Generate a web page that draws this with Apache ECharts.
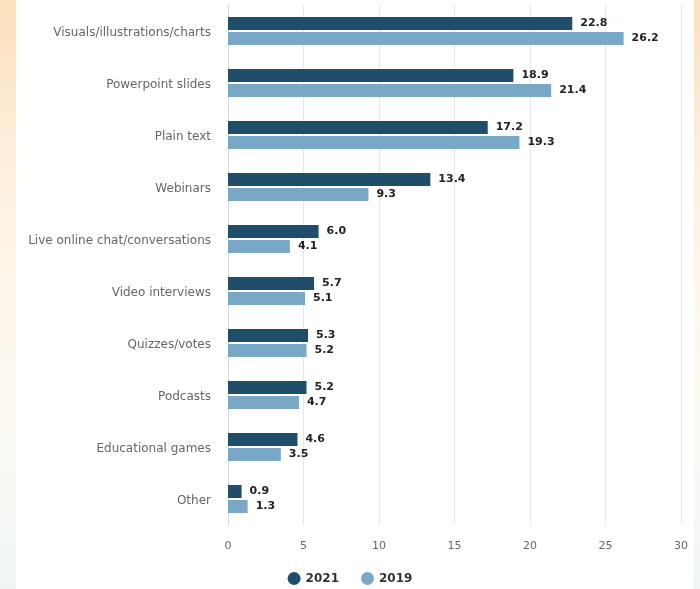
<!DOCTYPE html>
<html>
<head>
<meta charset="utf-8">
<script src="https://cdn.jsdelivr.net/npm/echarts@6/dist/echarts.min.js"></script>
<style>
  html, body { margin: 0; padding: 0; }
  body {
    width: 700px; height: 589px; overflow: hidden; position: relative;
    background: linear-gradient(to bottom, #fde0bc 0%, #fdeedb 25%, #fef7ec 50%, #fcfaf4 75%, #eef6f5 100%);
  }
  #panel { position: absolute; left: 16px; top: 0; width: 678px; height: 589px; background: #ffffff; }
  #chart { position: absolute; left: 0; top: 0; width: 700px; height: 589px; }
</style>
</head>
<body>
<div id="panel"></div>
<div id="chart"></div>
<script>
// Content formats used, share of respondents (%)
const categories = [
  'Visuals/illustrations/charts',
  'Powerpoint slides',
  'Plain text',
  'Webinars',
  'Live online chat/conversations',
  'Video interviews',
  'Quizzes/votes',
  'Podcasts',
  'Educational games',
  'Other'
];
const values2021 = [22.8, 18.9, 17.2, 13.4, 6.0, 5.7, 5.3, 5.2, 4.6, 0.9];
const values2019 = [26.2, 21.4, 19.3, 9.3, 4.1, 5.1, 5.2, 4.7, 3.5, 1.3];
const seriesNames = ['2021', '2019'];
const xTicks = [0, 5, 10, 15, 20, 25, 30];

const FONT = 'DejaVu Sans';
const chart = echarts.init(document.getElementById('chart'), null, { renderer: 'canvas' });

const valueLabel = {
  show: true,
  position: 'right',
  distance: 8,
  color: '#222222',
  fontWeight: 'bold',
  fontSize: 11,
  fontFamily: FONT,
  formatter: p => p.value.toFixed(1)
};

chart.setOption({
  backgroundColor: 'transparent',
  animation: false,
  textStyle: { fontFamily: FONT },
  grid: { left: 228, right: 19, top: 5, bottom: 64, containLabel: false },
  legend: {
    data: seriesNames,
    bottom: -1,
    left: 'center',
    icon: 'circle',
    itemWidth: 13,
    itemHeight: 13,
    itemGap: 22,
    textStyle: { fontFamily: FONT, fontSize: 12, fontWeight: 'bold', color: '#333333' }
  },
  xAxis: {
    type: 'value',
    min: xTicks[0],
    max: xTicks[xTicks.length - 1],
    interval: 5,
    axisLine: { show: false },
    axisTick: { show: false },
    splitLine: { show: true, lineStyle: { color: '#e6e6e6', width: 1 } },
    axisLabel: { color: '#666666', fontSize: 11, fontFamily: FONT, margin: 16 }
  },
  yAxis: {
    type: 'category',
    data: categories,
    inverse: true,
    axisLine: { show: true, lineStyle: { color: '#cfd6de', width: 1 } },
    axisTick: { show: false },
    axisLabel: {
      color: '#666666', fontSize: 12, fontFamily: FONT, margin: 17,
      verticalAlign: 'top', lineHeight: 14, padding: [-5, 0, 0, 0]
    }
  },
  series: [
    {
      name: seriesNames[0],
      type: 'bar',
      data: values2021,
      barWidth: 13,
      barGap: '15%',
      itemStyle: { color: '#204d69' },
      label: valueLabel
    },
    {
      name: seriesNames[1],
      type: 'bar',
      data: values2019,
      barWidth: 13,
      barGap: '15%',
      itemStyle: { color: '#78a8c6' },
      label: valueLabel
    }
  ]
});
</script>
</body>
</html>
